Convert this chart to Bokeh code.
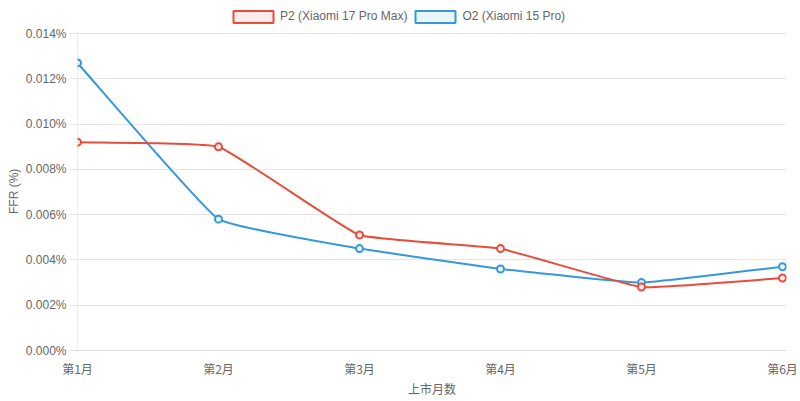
import math
from bokeh.plotting import figure
from bokeh.models import (ColumnDataSource, Legend, LegendItem, FixedTicker,
                          PrintfTickFormatter, Range1d, Title)
from bokeh.embed import file_html
from bokeh.resources import INLINE

# ---------------- data ----------------
months = ["第1月", "第2月", "第3月", "第4月", "第5月", "第6月"]
p2_ffr = [0.0092, 0.0090, 0.0051, 0.0045, 0.0028, 0.0032]
o2_ffr = [0.0127, 0.0058, 0.0045, 0.0036, 0.0030, 0.0037]
y_ticks = [0.000, 0.002, 0.004, 0.006, 0.008, 0.010, 0.012, 0.014]
series_names = ["P2 (Xiaomi 17 Pro Max)", "O2 (Xiaomi 15 Pro)"]
x_title = "上市月数"
y_title = "FFR (%)"

# ---------------- style ----------------
RED = "#e74c3c"
BLUE = "#3498db"
RED_BG = "#fdeceb"
BLUE_BG = "#eaf4fb"
GRID = "#e5e5e5"
AXIS = "#dcdcdc"
TXT = "#666666"
LAT = "Liberation Sans"
CJK = "Noto Sans CJK SC"
TENSION = 0.1

W, H = 800, 400
FRAME_L, FRAME_R, FRAME_T, FRAME_B = 77, 14, 4, 50
PLOT_TOP = 33                      # pixel row of the top y tick
area_h = H - FRAME_B - PLOT_TOP    # pixel height of the data area
frame_w = W - FRAME_L - FRAME_R
x_pad = 4.0 / 141.0
x_end = (len(months) - 1) + x_pad
y_max = y_ticks[-1]
sx = frame_w / x_end               # px per x unit
sy = area_h / y_max                # px per y unit
y_end = y_max + (PLOT_TOP - FRAME_T) / sy

p = figure(width=W, height=H, output_backend="svg", toolbar_location=None,
           x_range=Range1d(0, x_end), y_range=Range1d(0, y_end),
           min_border_left=FRAME_L, min_border_right=FRAME_R,
           min_border_top=FRAME_T, min_border_bottom=FRAME_B)
p.outline_line_color = None
p.background_fill_color = "white"
p.border_fill_color = "white"

# grids
p.xgrid.grid_line_color = None
p.ygrid.grid_line_color = GRID
p.ygrid.ticker = FixedTicker(ticks=y_ticks)

# x axis
xs = list(range(len(months)))
p.xaxis.ticker = FixedTicker(ticks=xs)
p.xaxis.major_label_overrides = {i: m for i, m in enumerate(months)}
p.xaxis.major_tick_line_color = None
p.xaxis.minor_tick_line_color = None
p.xaxis.axis_line_color = AXIS
p.xaxis.major_label_standoff = 3
p.xaxis.major_label_text_font = CJK
p.xaxis.major_label_text_font_size = "12px"
p.xaxis.major_label_text_color = TXT
p.xaxis.axis_label = x_title
p.xaxis.axis_label_text_font = CJK
p.xaxis.axis_label_text_font_size = "12px"
p.xaxis.axis_label_text_font_style = "normal"
p.xaxis.axis_label_text_color = TXT
p.xaxis.axis_label_standoff = 0

# y axis (line drawn only over the tick span, below)
p.yaxis.ticker = FixedTicker(ticks=y_ticks)
p.yaxis.formatter = PrintfTickFormatter(format="%.3f%%")
p.yaxis.major_tick_out = 8
p.yaxis.major_tick_in = 0
p.yaxis.major_tick_line_color = GRID
p.yaxis.minor_tick_line_color = None
p.yaxis.axis_line_color = None
p.yaxis.major_label_standoff = 3
p.yaxis.major_label_text_font = LAT
p.yaxis.major_label_text_font_size = "12px"
p.yaxis.major_label_text_color = TXT

# y axis title, centred on the tick span
ytitle = Title(text=y_title, align="left", offset=(area_h / 2) - 22,
               standoff=3, text_font=LAT, text_font_size="12px",
               text_font_style="normal", text_color=TXT)
p.add_layout(ytitle, "left")

p.segment(x0=[xs[0]], y0=[y_ticks[0]], x1=[xs[0]], y1=[y_ticks[-1]],
          line_color=AXIS, line_width=1)


def spline(xv, yv, t=TENSION):
    """Chart.js-style bezier control points, computed in pixel space."""
    n = len(xv)
    px = [x * sx for x in xv]
    py = [y * sy for y in yv]
    cprev, cnext = [], []
    for i in range(n):
        a = max(i - 1, 0)
        b = min(i + 1, n - 1)
        d01 = math.hypot(px[i] - px[a], py[i] - py[a])
        d12 = math.hypot(px[b] - px[i], py[b] - py[i])
        tot = d01 + d12
        s01 = d01 / tot if tot else 0.0
        s12 = d12 / tot if tot else 0.0
        fa, fb = t * s01, t * s12
        dx, dy = px[b] - px[a], py[b] - py[a]
        cprev.append((px[i] - fa * dx, min(max(py[i] - fa * dy, 0), area_h)))
        cnext.append((px[i] + fb * dx, min(max(py[i] + fb * dy, 0), area_h)))
    seg = dict(x0=[], y0=[], x1=[], y1=[], cx0=[], cy0=[], cx1=[], cy1=[])
    for i in range(n - 1):
        seg["x0"].append(xv[i]); seg["y0"].append(yv[i])
        seg["x1"].append(xv[i + 1]); seg["y1"].append(yv[i + 1])
        seg["cx0"].append(cnext[i][0] / sx); seg["cy0"].append(cnext[i][1] / sy)
        seg["cx1"].append(cprev[i + 1][0] / sx); seg["cy1"].append(cprev[i + 1][1] / sy)
    return ColumnDataSource(seg)


series = [(o2_ffr, BLUE, BLUE_BG), (p2_ffr, RED, RED_BG)]
for vals, col, bg in series:
    src = spline(xs, vals)
    p.bezier(x0="x0", y0="y0", x1="x1", y1="y1", cx0="cx0", cy0="cy0",
             cx1="cx1", cy1="cy1", source=src, line_color=col, line_width=2)
    p.scatter(x=xs, y=vals, size=7, fill_color=bg, line_color=col, line_width=2)

# legend swatches: hidden box renderers over each series (only used for the key)
legend_items = []
for name, vals, col, bg in [(series_names[0], p2_ffr, RED, RED_BG),
                            (series_names[1], o2_ffr, BLUE, BLUE_BG)]:
    r = p.quad(left=xs, right=xs, top=vals, bottom=vals,
               fill_color=bg, line_color=col, line_width=2)
    r.visible = False
    legend_items.append(LegendItem(label=name, renderers=[r]))

frame_h = H - FRAME_T - FRAME_B
legend = Legend(items=legend_items, orientation="horizontal",
                location=(151, frame_h - 15 - (8.5 - FRAME_T)),
                glyph_width=50, glyph_height=15, label_height=15,
                label_standoff=2, spacing=3, padding=0, margin=0,
                border_line_color=None, background_fill_alpha=0,
                inactive_fill_alpha=0,
                label_text_font=LAT, label_text_font_size="12px",
                label_text_color=TXT)
p.add_layout(legend)

open("out.html", "w").write(file_html(p, INLINE))
